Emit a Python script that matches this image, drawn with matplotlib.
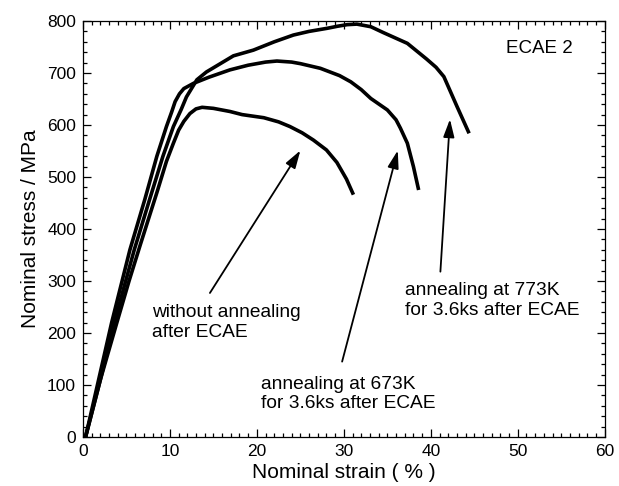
import matplotlib
matplotlib.use("Agg")
import matplotlib.pyplot as plt
from matplotlib.ticker import MultipleLocator

plt.rcParams['font.family'] = ['Liberation Sans', 'DejaVu Sans']

# strain (%) and stress (MPa)
strain_without = [0.3, 2.0, 3.9, 5.3, 6.6, 8.5, 9.6, 10.4, 11.0, 11.6, 12.3, 13.0, 13.7,
                  15.0, 16.9, 18.3, 20.8, 22.5, 23.8, 25.2, 26.5, 28.0, 29.2, 30.3, 31.1]
stress_without = [0, 110, 220, 300, 370, 470, 530, 565, 590, 607, 622, 631, 634,
                  632, 626, 620, 614, 606, 597, 585, 571, 552, 528, 496, 466]

strain_673 = [0.3, 1.8, 3.3, 5.4, 7.1, 8.5, 9.6, 10.2, 10.6, 11.1, 11.6, 12.7, 14.5,
              16.9, 19.0, 21.0, 22.3, 24.0, 25.0, 27.3, 29.5, 30.8, 32.0, 33.1, 35.0,
              36.0, 36.5, 37.3, 38.0, 38.6]
stress_673 = [0, 110, 220, 360, 456, 540, 597, 625, 645, 660, 670, 680, 692,
              706, 715, 721, 723, 721, 718, 709, 695, 683, 668, 651, 629,
              610, 594, 565, 520, 475]

strain_773 = [0.3, 2.0, 3.6, 5.9, 7.65, 9.2, 10.4, 11.3, 11.9, 13.1, 14.2, 16.2, 17.3,
              19.6, 22.0, 24.2, 26.0, 28.1, 29.3, 30.4, 31.5, 33.1, 34.5, 37.3, 39.5,
              40.6, 41.5, 43.0, 44.4]
stress_773 = [0, 110, 220, 360, 456, 540, 597, 630, 654, 687, 702, 722, 733,
              744, 760, 773, 780, 786, 790, 793, 794, 789, 778, 757, 727,
              711, 693, 636, 584]

fig = plt.figure(figsize=(6.19, 4.86), dpi=100)
ax = fig.add_axes([0.134, 0.1008, 0.843, 0.856])

for xs, ys in [(strain_without, stress_without), (strain_673, stress_673),
               (strain_773, stress_773)]:
    ax.plot(xs, ys, color='black', lw=2.6, solid_joinstyle='round',
            solid_capstyle='butt')

ax.set_xlim(0, 60)
ax.set_ylim(0, 800)
ax.xaxis.set_major_locator(MultipleLocator(10))
ax.xaxis.set_minor_locator(MultipleLocator(1))
ax.yaxis.set_major_locator(MultipleLocator(100))
ax.yaxis.set_minor_locator(MultipleLocator(20))
ax.tick_params(which='both', direction='in', top=True, right=True, width=0.9,
               labelsize=12.5, pad=5)
ax.tick_params(which='major', length=6)
ax.tick_params(which='minor', length=3)
for s in ax.spines.values():
    s.set_linewidth(0.9)

ax.set_xlabel('Nominal strain ( % )', fontsize=15, labelpad=3)
ax.set_ylabel('Nominal stress / MPa', fontsize=15, labelpad=5)

ax.text(48.7, 738, 'ECAE 2', fontsize=13.5, va='baseline', ha='left')

# y given at the baseline of the last line
ax.text(7.9, 193, 'without annealing\nafter ECAE', fontsize=13.8,
        va='baseline', ha='left', linespacing=1.2)
ax.text(20.5, 55, 'annealing at 673K\nfor 3.6ks after ECAE', fontsize=13.8,
        va='baseline', ha='left', linespacing=1.2)
ax.text(37.0, 235, 'annealing at 773K\nfor 3.6ks after ECAE', fontsize=13.8,
        va='baseline', ha='left', linespacing=1.2)

arrows = [((14.6, 277), (25.0, 551)),
          ((29.8, 145), (36.2, 551)),
          ((41.1, 318), (42.2, 611))]
for tail, head in arrows:
    ax.annotate('', xy=head, xytext=tail,
                arrowprops=dict(arrowstyle='-|>,head_length=0.9,head_width=0.28',
                                mutation_scale=12, color='black', lw=1.3,
                                shrinkA=0, shrinkB=0))

fig.savefig('out.png', dpi=100)
